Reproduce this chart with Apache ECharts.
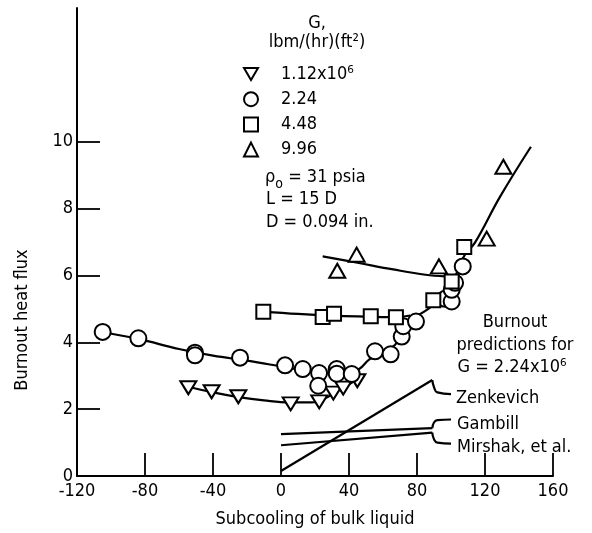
<!DOCTYPE html>
<html><head><meta charset="utf-8">
<script src="https://cdn.jsdelivr.net/npm/echarts@6/dist/echarts.min.js"></script>
<style>html,body{margin:0;padding:0;background:#fff}#c{width:592px;height:533px}</style>
</head><body><div id="c"></div>
<script>
const FONT = '"DejaVu Sans Condensed","DejaVu Sans",sans-serif';
// axis ranges
const xMin = -120, xMax = 160, xStep = 40;
const yMin = 0, yMax = 14, yStep = 2;
const yTickValues = [0, 2, 4, 6, 8, 10];

// legend names (G, lbm/(hr)(ft2))
const gNames = ['1.12x10⁶', '2.24', '4.48', '9.96'];

// measured points
const triDown = [[-54.5,2.64],[-40.8,2.52],[-25.1,2.37],[5.7,2.16],[22.5,2.22],[30.8,2.48],[36.6,2.63],[44.9,2.85]];
const circles = [[-104.9,4.31],[-83.9,4.12],[-50.6,3.69],[-50.6,3.61],[-24.1,3.54],[2.4,3.31],[12.8,3.2],[22.4,3.08],[21.9,2.7],[32.8,3.2],[32.8,3.06],[41.6,3.05],[55.3,3.73],[64.5,3.64],[71,4.17],[71.9,4.48],[79.4,4.62],[96.5,5.3],[100.4,5.22],[100.4,5.57],[102.4,5.78],[106.9,6.27]];
const squares = [[-10.4,4.91],[24.5,4.76],[31.2,4.85],[52.8,4.78],[67.6,4.75],[89.6,5.26],[100.4,5.82],[107.8,6.85]];
const triUp = [[33.1,6.14],[44.5,6.62],[92.9,6.27],[121,7.1],[130.8,9.25]];

// faired curves through the data
const curveTriDown = [[-54.5,2.67],[-40,2.5],[-25,2.36],[-10,2.26],[5,2.2],[18,2.2],[28,2.38],[36,2.62],[46,2.92]];
const curveCircles = [[-105,4.3],[-84,4.1],[-60,3.8],[-40,3.6],[-20,3.45],[0,3.28],[15,3.15],[28,3.07],[39,3.08],[46,3.2],[52,3.49],[60,3.72],[67,3.92],[71,4.28],[76,4.64],[86,4.98],[94,5.3],[100,5.7],[104,6.15],[108.2,6.62],[114.1,6.98],[128.8,8.35],[147,9.85]];
const curveSquares = [[-10.4,4.92],[10,4.85],[30,4.8],[50,4.77],[67.6,4.75],[76,4.8]];
const curveTriUp = [[24.5,6.57],[45,6.38],[66,6.18],[85,6.02],[96.5,5.97]];

// predictions for G = 2.24x10^6
const zenkevich = [[0,0.15],[89,2.87]];
const gambill = [[0,1.25],[89,1.43]];
const mirshak = [[0,0.92],[89,1.30]];
const hookZ = [[89,2.87],[90,2.66],[92,2.5],[100,2.45]];
const hookG = [[89,1.43],[90,1.6],[92,1.67],[100,1.69]];
const hookM = [[89,1.30],[90,1.1],[92,1.0],[100,0.97]];

const FS = 18;
const txt = {fontFamily: FONT, fontSize: FS, fill: '#000'};
function T(x, y, text, align, extra) {
  return {type: 'text', x: x, y: y, z: 50, style: Object.assign({text: text, align: align || 'left', verticalAlign: 'middle'}, txt, extra || {})};
}

function sc(name, data, symbol, rotate, size) {
  return {type: 'scatter', name: name, data: data, symbol: symbol, symbolRotate: rotate || 0, symbolSize: size,
    itemStyle: {color: '#fff', borderColor: '#000', borderWidth: 2, opacity: 1}, z: 5};
}
function ln(data, smooth) {
  return {type: 'line', data: data, smooth: smooth === undefined ? 0.4 : smooth, symbol: 'none',
    lineStyle: {color: '#000', width: 2.2}, z: 3, silent: true};
}

const chart = echarts.init(document.getElementById('c'));
chart.setOption({
  animation: false,
  backgroundColor: '#fff',
  grid: {left: 77, right: 39, top: 8, bottom: 54},
  xAxis: {type: 'value', min: xMin, max: xMax, interval: xStep,
    axisLine: {onZero: false, lineStyle: {color: '#000', width: 2}},
    axisTick: {inside: true, length: 23, lineStyle: {color: '#000', width: 1.8}},
    axisLabel: {color: '#000', fontFamily: FONT, fontSize: FS, margin: 6},
    splitLine: {show: false},
    name: 'Subcooling of bulk liquid', nameLocation: 'middle', nameGap: 34,
    nameTextStyle: {color: '#000', fontFamily: FONT, fontSize: FS}},
  yAxis: {type: 'value', min: yMin, max: yMax, interval: yStep,
    axisLine: {show: true, onZero: false, lineStyle: {color: '#000', width: 2}},
    axisTick: {show: true, inside: true, length: 23, customValues: yTickValues, lineStyle: {color: '#000', width: 1.8}},
    axisLabel: {color: '#000', fontFamily: FONT, fontSize: FS, margin: 4, customValues: yTickValues},
    splitLine: {show: false}},
  legend: {orient: 'vertical', left: 238, top: 60, itemWidth: 14, itemHeight: 14, itemGap: 7.2,
    data: [{name: gNames[0], icon: 'path://M0,0L20,0L10,17Z'}, {name: gNames[1]}, {name: gNames[2]}, {name: gNames[3]}],
    selectedMode: false,
    formatter: function (n) { return '{g|}' + n; },
    textStyle: {color: '#000', fontFamily: FONT, fontSize: FS, lineHeight: 15,
      rich: {g: {width: 18}}}},
  graphic: [
    T(317, 23, 'G,', 'center'),
    T(317, 42, 'lbm/(hr)(ft²)', 'center'),
    {type: 'text', x: 265, y: 177, z: 50, style: Object.assign({text: 'ρ{s|o} = 31 psia', verticalAlign: 'middle',
      rich: {s: {fontFamily: FONT, fontSize: 14, padding: [15, 0, 0, 0]}}}, txt)},
    T(266, 199, 'L = 15 D'),
    T(266, 222, 'D = 0.094 in.'),
    T(515, 322, 'Burnout', 'center'),
    T(515, 345, 'predictions for', 'center'),
    T(512, 367, 'G = 2.24x10⁶', 'center'),
    T(456, 398, 'Zenkevich'),
    T(457, 424, 'Gambill'),
    T(457, 447, 'Mirshak, et al.'),
    {type: 'text', x: 22, y: 320, rotation: Math.PI / 2, z: 50,
      style: Object.assign({text: 'Burnout heat flux', align: 'center', verticalAlign: 'middle'}, txt)}
  ],
  series: [
    ln(curveTriDown), ln(curveCircles), ln(curveSquares), ln(curveTriUp),
    ln(zenkevich, false), ln(gambill, false), ln(mirshak, false),
    ln(hookZ, 0.5), ln(hookG, 0.5), ln(hookM, 0.5),
    sc(gNames[0], triDown, 'triangle', 180, [16, 13]),
    sc(gNames[1], circles, 'circle', 0, 16),
    sc(gNames[2], squares, 'rect', 0, 14),
    sc(gNames[3], triUp, 'triangle', 0, [16, 14])
  ]
});
</script></body></html>
